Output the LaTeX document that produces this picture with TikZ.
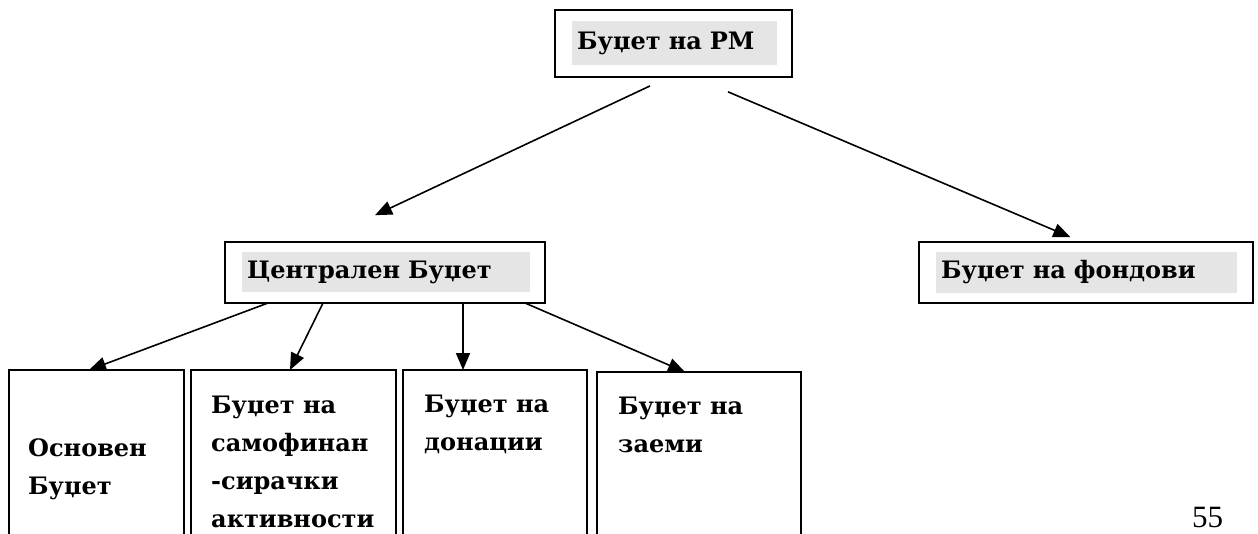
\documentclass[tikz,border=0pt]{standalone}
\usepackage{fontspec}
\setmainfont{DejaVu Serif}
\newfontfamily\pagenumfont{Liberation Serif}
\usetikzlibrary{arrows.meta}
\tikzset{
  box/.style={draw=black, line width=1.2pt, inner sep=0pt, outer sep=0pt, fill=white},
  hilite/.style={fill=black!10, inner xsep=5pt, inner ysep=0pt, align=left, anchor=west,
     font=\fontsize{24}{28}\selectfont\bfseries},
  btext/.style={anchor=base west, align=left, inner sep=0pt,
     font=\fontsize{24}{38}\selectfont\bfseries},
  arr/.style={line width=1.6pt, -{Triangle[length=17pt,width=14pt]}},
}
\begin{document}
\begin{tikzpicture}[x=1pt,y=-1pt]
\useasboundingbox (0,0) rectangle (1258,533);
\clip (0,0) rectangle (1258,533);
% boxes
\node[box, minimum width=237pt, minimum height=67pt] (rm) at (673.5,43.5) {};
\node[box, minimum width=320pt, minimum height=61pt] (cb) at (385,272.5) {};
\node[box, minimum width=334pt, minimum height=61pt] (fb) at (1086,272.5) {};
\node[box, minimum width=175pt, minimum height=175pt, anchor=north] (b1) at (96.5,370) {};
\node[box, minimum width=205pt, minimum height=175pt, anchor=north] (b2) at (293.5,370) {};
\node[box, minimum width=184pt, minimum height=175pt, anchor=north] (b3) at (495,370) {};
\node[box, minimum width=204pt, minimum height=175pt, anchor=north] (b4) at (699,372) {};
% highlighted labels
\node[hilite, text width=195pt, minimum height=44pt] (trm) at (572,43) {Буџет на РМ};
\node[hilite, text width=278pt, minimum height=40pt] (tcb) at (242,272) {Централен Буџет};
\node[hilite, text width=291pt, minimum height=41pt] (tfb) at (936,272.5) {Буџет на фондови};
% bottom texts (anchored at the baseline of the last line)
\node[btext] (tb1) at (28,494) {Основен\\Буџет};
\node[btext] (tb2) at (211,527) {Буџет на\\самофинан\\-сирачки\\активности};
\node[btext] (tb3) at (424,450) {Буџет на\\донации};
\node[btext] (tb4) at (618,452) {Буџет на\\заеми};
% page number
\node[anchor=base west, inner sep=0pt, font=\pagenumfont\fontsize{31}{34}\selectfont] (pg) at (1192,527) {55};
% connectors
\draw[arr, shorten <=21pt, shorten >=63pt] ([xshift=-4.5pt]rm.south) -- ([xshift=-67pt]cb.north);
\draw[arr, shorten <=38pt, shorten >=12.7pt] ([xshift=19.5pt]rm.south) -- ([xshift=-4pt]fb.north);
\draw[arr] ([xshift=-117pt]cb.south) -- ([xshift=-7.5pt]b1.north);
\draw[arr] ([xshift=-62pt]cb.south) -- ([xshift=-3.5pt]b2.north);
\draw[arr] ([xshift=78pt]cb.south) -- ([xshift=-32pt]b3.north);
\draw[arr] ([xshift=140pt]cb.south) -- ([xshift=-14pt]b4.north);
\end{tikzpicture}
\end{document}
